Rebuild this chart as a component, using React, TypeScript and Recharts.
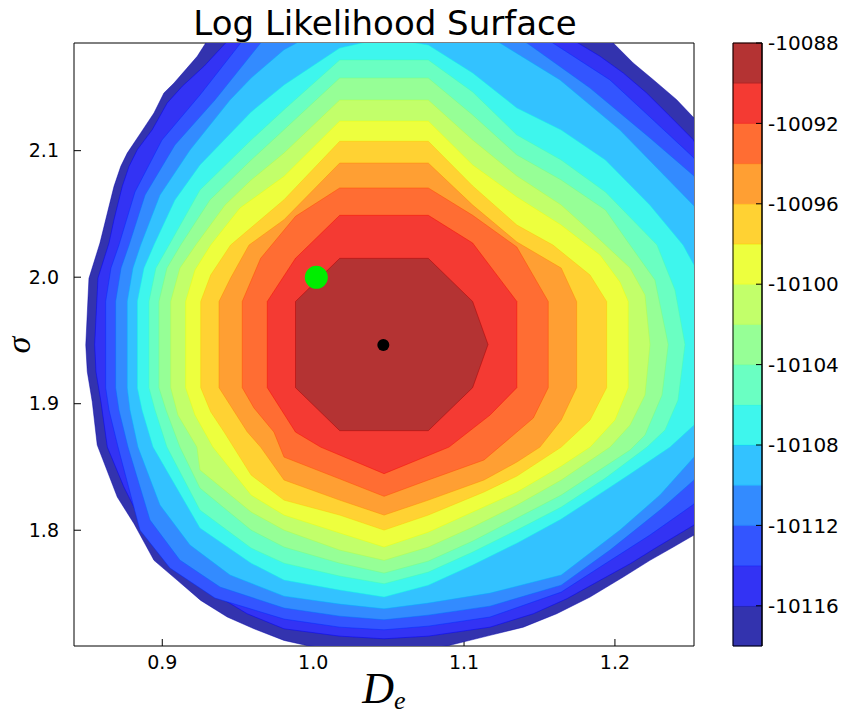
import React from "react"
import { ScatterChart, Scatter, XAxis, YAxis, ComposedChart, ReferenceArea } from "recharts"

type Pt = [number, number]

// axes
const xDomain: [number, number] = [0.8415, 1.2524]
const yDomain: [number, number] = [1.7085, 2.1851]
const xTicks = [0.9, 1.0, 1.1, 1.2]
const yTicks = [1.8, 1.9, 2.0, 2.1]

// contour levels and their fill colours (jet, alpha 0.8)
const levels = [-10118, -10116, -10114, -10112, -10110, -10108, -10106, -10104, -10102, -10100, -10098, -10096, -10094, -10092, -10090, -10088]
const levelTicks = [-10116, -10112, -10108, -10104, -10100, -10096, -10092, -10088]
const bandColors = ["#3333ae", "#3333f4", "#3355ff", "#338bff", "#33c2ff", "#3ef6ed", "#6affc2", "#96ff96", "#c2ff6a", "#edff3e", "#ffd233", "#ff9f33", "#ff6d33", "#f43a33", "#b43333"]
const edgeColors = ["#0000a6", "#0000f3", "#002aff", "#006eff", "#00b3ff", "#0ef6e9", "#44ffb2", "#7bff7b", "#b2ff44", "#e9ff0e", "#ffc600", "#ff8700", "#ff4800", "#f30900", "#a60000"]

// contour outlines (D_e, sigma), outermost first
const c10118: Pt[] = [[0.9288,2.1851],[0.9232,2.1746],[0.9078,2.1535],[0.9011,2.1456],[0.8945,2.1298],[0.8857,2.1140],[0.8768,2.0981],[0.8725,2.0876],[0.8680,2.0718],[0.8636,2.0507],[0.8587,2.0270],[0.8514,1.9991],[0.8493,1.9464],[0.8503,1.9253],[0.8536,1.9015],[0.8569,1.8673],[0.8702,1.8262],[0.8813,1.8051],[0.8945,1.7762],[0.9100,1.7604],[0.9255,1.7445],[0.9431,1.7314],[0.9608,1.7221],[0.9807,1.7129],[0.9972,1.7085],[1.0469,1.7037],[1.0887,1.7085],[1.1172,1.7169],[1.1393,1.7234],[1.1614,1.7340],[1.1835,1.7472],[1.2055,1.7630],[1.2232,1.7762],[1.2387,1.7867],[1.2524,1.7962],[1.2961,1.9468],[1.2524,2.1258],[1.2409,2.1403],[1.2254,2.1561],[1.2121,2.1693],[1.1989,2.1851],[1.0575,2.2507]]
const c10116: Pt[] = [[0.9420,2.1851],[0.9277,2.1667],[0.9133,2.1509],[0.9033,2.1377],[0.8934,2.1166],[0.8835,2.1008],[0.8780,2.0876],[0.8735,2.0718],[0.8680,2.0454],[0.8647,2.0270],[0.8574,1.9993],[0.8552,1.9468],[0.8561,1.9250],[0.8594,1.9013],[0.8636,1.8657],[0.8746,1.8341],[0.8857,1.8078],[0.9011,1.7814],[0.9166,1.7656],[0.9343,1.7498],[0.9563,1.7340],[0.9807,1.7221],[1.0176,1.7163],[1.0470,1.7142],[1.0763,1.7163],[1.1172,1.7234],[1.1459,1.7340],[1.1680,1.7458],[1.1901,1.7604],[1.2100,1.7735],[1.2279,1.7867],[1.2524,1.8041],[1.3127,1.9468],[1.2519,2.1087],[1.2365,2.1272],[1.2210,2.1456],[1.2055,2.1614],[1.1901,2.1746],[1.1755,2.1851],[1.0575,2.2586]]
const c10114: Pt[] = [[0.8625,1.9127],[0.8625,1.9808],[0.8660,2.0072],[0.8713,2.0254],[0.8819,2.0673],[0.8998,2.1084],[0.9250,2.1440],[0.9520,2.1851],[1.0045,2.2349],[1.0469,2.2428],[1.0907,2.2349],[1.1589,2.1851],[1.1967,2.1559],[1.2232,2.1266],[1.2524,2.0942],[1.2994,1.9468],[1.2524,1.8207],[1.2232,1.7962],[1.1901,1.7709],[1.1644,1.7511],[1.1172,1.7314],[1.0763,1.7242],[1.0470,1.7213],[1.0176,1.7234],[0.9807,1.7298],[0.9349,1.7464],[0.9051,1.7701],[0.8852,1.8001],[0.8707,1.8657],[0.8647,1.8950]]
const c10112: Pt[] = [[0.8691,1.9127],[0.8691,1.9808],[0.8727,2.0072],[0.8780,2.0254],[0.8886,2.0649],[0.9084,2.1045],[0.9349,2.1400],[0.9652,2.1851],[1.0112,2.2191],[1.0469,2.2270],[1.0840,2.2230],[1.1417,2.1851],[1.1835,2.1495],[1.2232,2.1100],[1.2524,2.0800],[1.2862,1.9468],[1.2524,1.8397],[1.2298,1.8159],[1.1967,1.7843],[1.1644,1.7566],[1.1172,1.7400],[1.0763,1.7329],[1.0470,1.7292],[1.0176,1.7321],[0.9807,1.7385],[0.9383,1.7551],[0.9117,1.7764],[0.8919,1.8080],[0.8773,1.8657],[0.8713,1.8950]]
const c10110: Pt[] = [[0.8768,1.9127],[0.8768,1.9808],[0.8806,2.0072],[0.8857,2.0254],[0.8985,2.0649],[0.9184,2.1005],[0.9449,2.1400],[0.9589,2.1574],[0.9807,2.1798],[1.0178,2.2033],[1.0469,2.2112],[1.0774,2.2072],[1.1238,2.1851],[1.1636,2.1559],[1.2033,2.1163],[1.2524,2.0563],[1.2729,1.9468],[1.2524,1.8578],[1.2298,1.8278],[1.2033,1.8001],[1.1644,1.7646],[1.1172,1.7503],[1.0763,1.7424],[1.0470,1.7379],[1.0176,1.7416],[0.9807,1.7479],[0.9449,1.7646],[0.9184,1.7883],[0.8985,1.8199],[0.8839,1.8657],[0.8786,1.8950]]
const c10108: Pt[] = [[0.8835,1.9127],[0.8835,1.9808],[0.8879,2.0072],[0.8945,2.0254],[0.9084,2.0610],[0.9250,2.0887],[0.9589,2.1306],[0.9807,2.1519],[1.0176,2.1811],[1.0470,2.1891],[1.0763,2.1835],[1.1057,2.1614],[1.1350,2.1337],[1.1644,2.1163],[1.1937,2.0926],[1.2231,2.0570],[1.2451,2.0254],[1.2524,2.0096],[1.2597,1.9468],[1.2524,1.8831],[1.2365,1.8657],[1.2100,1.8444],[1.1937,1.8317],[1.1644,1.8088],[1.1350,1.7898],[1.1057,1.7725],[1.0763,1.7566],[1.0470,1.7472],[1.0176,1.7527],[0.9807,1.7606],[0.9589,1.7740],[0.9250,1.8017],[0.8939,1.8657],[0.8866,1.8950]]
const c10106: Pt[] = [[0.8912,1.9127],[0.8912,1.9808],[0.8958,2.0072],[0.9045,2.0254],[0.9250,2.0689],[0.9589,2.1084],[0.9807,2.1324],[1.0176,2.1717],[1.0763,2.1717],[1.1057,2.1464],[1.1350,2.1124],[1.1644,2.0926],[1.1937,2.0673],[1.2279,2.0254],[1.2398,1.9898],[1.2464,1.9468],[1.2418,1.9029],[1.2332,1.8792],[1.2212,1.8657],[1.1937,1.8412],[1.1644,1.8183],[1.1350,1.8001],[1.1057,1.7827],[1.0763,1.7669],[1.0470,1.7577],[1.0176,1.7638],[0.9807,1.7740],[0.9589,1.7859],[0.9250,1.8159],[0.9031,1.8657],[0.8952,1.8950]]
const c10104: Pt[] = [[0.8978,1.9127],[0.8978,1.9808],[0.9031,2.0072],[0.9122,2.0254],[0.9316,2.0610],[0.9589,2.0926],[0.9807,2.1166],[1.0176,2.1574],[1.0763,2.1574],[1.1057,2.1282],[1.1350,2.0966],[1.1644,2.0768],[1.1937,2.0531],[1.2100,2.0254],[1.2265,1.9978],[1.2353,1.9468],[1.2312,1.9068],[1.2199,1.8752],[1.2100,1.8634],[1.1644,1.8278],[1.1350,1.8096],[1.1057,1.7914],[1.0763,1.7756],[1.0470,1.7661],[1.0176,1.7740],[0.9807,1.7867],[0.9589,1.8001],[0.9250,1.8333],[0.9117,1.8657],[0.9025,1.8950]]
const c10102: Pt[] = [[0.9056,1.9127],[0.9056,1.9808],[0.9117,2.0072],[0.9222,2.0254],[0.9416,2.0570],[0.9589,2.0768],[0.9807,2.0981],[1.0176,2.1400],[1.0763,2.1400],[1.1057,2.1084],[1.1350,2.0800],[1.1644,2.0570],[1.1901,2.0294],[1.2100,2.0072],[1.2199,1.9859],[1.2232,1.9468],[1.2199,1.9068],[1.2100,1.8831],[1.1967,1.8657],[1.1644,1.8397],[1.1350,1.8199],[1.1057,1.8025],[1.0763,1.7867],[1.0470,1.7762],[1.0176,1.7843],[0.9807,1.8001],[0.9589,1.8144],[0.9250,1.8476],[0.9230,1.8657],[0.9104,1.8910]]
const c10100: Pt[] = [[0.9155,1.9127],[0.9155,1.9808],[0.9217,2.0057],[0.9321,2.0254],[0.9515,2.0547],[0.9807,2.0797],[1.0176,2.1234],[1.0763,2.1234],[1.1057,2.0887],[1.1350,2.0634],[1.1644,2.0412],[1.1901,2.0175],[1.2033,1.9962],[1.2088,1.9808],[1.2088,1.9127],[1.2000,1.8871],[1.1835,1.8657],[1.1644,1.8507],[1.1350,1.8302],[1.1057,1.8144],[1.0763,1.7985],[1.0470,1.7867],[1.0176,1.7978],[0.9807,1.8120],[0.9589,1.8278],[0.9336,1.8657],[0.9217,1.8910]]
const c10098: Pt[] = [[0.9255,1.9127],[0.9255,1.9808],[0.9321,2.0017],[0.9453,2.0254],[0.9807,2.0612],[1.0176,2.1074],[1.0763,2.1074],[1.1057,2.0721],[1.1350,2.0412],[1.1589,2.0254],[1.1835,2.0017],[1.1945,1.9808],[1.1945,1.9127],[1.1835,1.8871],[1.1644,1.8657],[1.1350,1.8428],[1.1132,1.8302],[1.0763,1.8120],[1.0470,1.8001],[1.0176,1.8120],[0.9807,1.8238],[0.9589,1.8436],[0.9409,1.8778],[0.9321,1.8936]]
const c10096: Pt[] = [[0.9376,1.9127],[0.9376,1.9808],[0.9453,1.9993],[0.9575,2.0254],[0.9807,2.0454],[1.0176,2.0902],[1.0763,2.0902],[1.1057,2.0570],[1.1350,2.0278],[1.1644,2.0072],[1.1746,1.9808],[1.1746,1.9127],[1.1644,1.8871],[1.1503,1.8657],[1.1350,1.8539],[1.1132,1.8397],[1.0763,1.8238],[1.0470,1.8120],[1.0176,1.8238],[0.9807,1.8397],[0.9652,1.8657],[0.9563,1.8778]]
const c10094: Pt[] = [[0.9530,1.9127],[0.9530,1.9808],[0.9652,2.0149],[0.9883,2.0481],[1.0176,2.0705],[1.0763,2.0705],[1.1057,2.0489],[1.1350,2.0238],[1.1558,1.9808],[1.1558,1.9127],[1.1459,1.8887],[1.1350,1.8776],[1.1132,1.8555],[1.0763,1.8397],[1.0470,1.8268],[1.0176,1.8406],[0.9807,1.8578],[0.9740,1.8776],[0.9608,1.8966]]
const c10092: Pt[] = [[0.9696,1.9127],[0.9696,1.9808],[0.9883,2.0149],[1.0176,2.0489],[1.0763,2.0489],[1.1057,2.0270],[1.1350,1.9808],[1.1350,1.9127],[1.1172,1.8910],[1.0900,1.8657],[1.0470,1.8447],[1.0050,1.8657],[0.9883,1.8776]]
const c10090: Pt[] = [[0.9883,1.9127],[0.9883,1.9808],[1.0176,2.0149],[1.0763,2.0149],[1.1057,1.9808],[1.1159,1.9468],[1.1057,1.9127],[1.0763,1.8787],[1.0176,1.8787]]

const contours = [c10118, c10116, c10114, c10112, c10110, c10108, c10106, c10104, c10102, c10100, c10098, c10096, c10094, c10092, c10090]

// markers
const trueParams = [{ x: 1.0021, y: 1.9999 }]
const bestFit = [{ x: 1.0465, y: 1.9464 }]

const cbData = [{ x: 0 }, { x: 1 }]

const toPoints = (c: Pt[]) => [...c, c[0]].map(([x, y]) => ({ x, y }))

const tickFont = { fontFamily: "DejaVu Sans, sans-serif", fontSize: 19, fill: "#000" }
const cbFont = { fontFamily: "DejaVu Sans, sans-serif", fontSize: 20, fill: "#000" }

function ContourChart() {
  return (
    <ScatterChart width={845} height={716} margin={{ top: 42, right: 150, bottom: 40, left: 14 }}>
      {contours.map((c, i) => (
        <Scatter
          key={i}
          data={toPoints(c)}
          xAxisId="b"
          yAxisId="l"
          isAnimationActive={false}
          line={{ fill: bandColors[i], stroke: edgeColors[i], strokeOpacity: 0.45, strokeWidth: 1 }}
          lineType="joint"
          shape={() => <g />}
        />
      ))}
      <Scatter
        data={trueParams}
        xAxisId="b"
        yAxisId="l"
        isAnimationActive={false}
        shape={(p: any) => <circle cx={p.cx} cy={p.cy} r={11.5} fill="#00ee00" />}
      />
      <Scatter
        data={bestFit}
        xAxisId="b"
        yAxisId="l"
        isAnimationActive={false}
        shape={(p: any) => <circle cx={p.cx} cy={p.cy} r={6} fill="#000" />}
      />
      <XAxis
        xAxisId="b"
        type="number"
        dataKey="x"
        domain={xDomain}
        allowDataOverflow
        ticks={xTicks}
        interval={0}
        tickFormatter={(v: number) => v.toFixed(1)}
        height={30}
        tickSize={-7}
        tickMargin={17}
        stroke="#000"
        tick={tickFont}
      />
      <XAxis
        xAxisId="t"
        orientation="top"
        type="number"
        dataKey="x"
        domain={xDomain}
        allowDataOverflow
        ticks={xTicks}
        interval={0}
        height={1}
        tickSize={-7}
        stroke="#000"
        tick={false}
      />
      <YAxis
        yAxisId="l"
        type="number"
        dataKey="y"
        domain={yDomain}
        allowDataOverflow
        ticks={yTicks}
        interval={0}
        tickFormatter={(v: number) => v.toFixed(1)}
        width={60}
        tickSize={-7}
        tickMargin={22}
        stroke="#000"
        tick={tickFont}
      />
      <YAxis
        yAxisId="r"
        orientation="right"
        type="number"
        dataKey="y"
        domain={yDomain}
        allowDataOverflow
        ticks={yTicks}
        interval={0}
        width={1}
        tickSize={-7}
        stroke="#000"
        tick={false}
      />
    </ScatterChart>
  )
}

function ColorBar() {
  return (
    <ComposedChart width={845} height={716} margin={{ top: 43, right: 3, bottom: 70, left: 733 }} data={cbData}>
      <XAxis type="number" dataKey="x" domain={[0, 1]} hide height={0} />
      {bandColors.map((c, i) => (
        <ReferenceArea key={i} y1={levels[i]} y2={levels[i + 1]} fill={c} fillOpacity={1} stroke={edgeColors[i]} strokeOpacity={0.45} strokeWidth={1} />
      ))}
      <ReferenceArea y1={levels[0]} y2={levels[levels.length - 1]} fill="none" stroke="#000" strokeWidth={1} />
      <YAxis
        type="number"
        orientation="right"
        domain={[levels[0], levels[levels.length - 1]]}
        allowDataOverflow
        ticks={levelTicks}
        interval={0}
        width={80}
        tickSize={-6}
        tickMargin={12}
        stroke="#000"
        tick={cbFont}
      />
    </ComposedChart>
  )
}

export default function App() {
  return (
    <div style={{ position: "absolute", left: 0, top: 0, width: 845, height: 716, background: "#fff" }}>
      <div style={{ position: "absolute", left: 0, top: 0 }}>
        <ContourChart />
      </div>
      <div style={{ position: "absolute", left: 0, top: 0 }}>
        <ColorBar />
      </div>
      <svg width={845} height={716} style={{ position: "absolute", left: 0, top: 0, pointerEvents: "none" }}>
        <text x={385} y={35} textAnchor="middle" fontFamily="DejaVu Sans, sans-serif" fontSize={34} fill="#000">
          Log Likelihood Surface
        </text>
        <text x={384} y={703} textAnchor="middle" fontFamily="Liberation Serif, serif" fontStyle="italic" fontSize={44} fill="#000">
          D<tspan fontSize={26} dy={6}>e</tspan>
        </text>
        <text transform="translate(30,345) rotate(-90)" textAnchor="middle" fontFamily="Liberation Serif, serif" fontStyle="italic" fontSize={34} fill="#000">
          σ
        </text>
      </svg>
    </div>
  )
}
